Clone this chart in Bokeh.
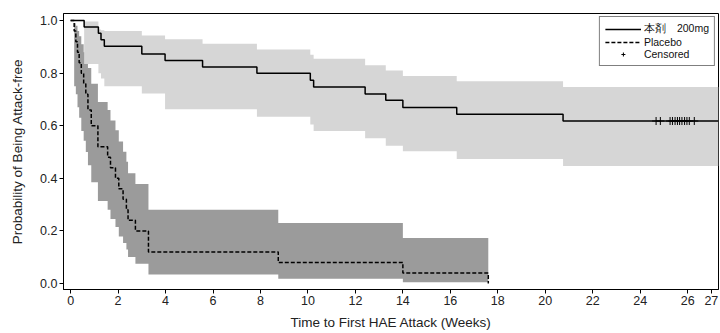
import numpy as np
from bokeh.plotting import figure
from bokeh.models import FixedTicker, Legend, LegendItem, PrintfTickFormatter, Range1d
from bokeh.embed import file_html
from bokeh.resources import INLINE

# ---- Drug arm (本剤 200mg): Kaplan-Meier estimate and confidence band ----
drug_time  = [0.0, 0.57, 1.17, 1.28, 1.42, 3.00, 3.98, 5.56, 7.85, 10.10, 10.24, 12.41, 13.28, 14.00, 16.27, 20.75]
drug_surv  = [1.0, 0.976, 0.952, 0.927, 0.902, 0.873, 0.848, 0.823, 0.800, 0.773, 0.747, 0.721, 0.697, 0.669, 0.644, 0.618]
drug_lower = [1.0, 0.835, 0.800, 0.780, 0.750, 0.723, 0.663, 0.663, 0.634, 0.605, 0.580, 0.552, 0.524, 0.503, 0.473, 0.447]
drug_upper = [1.0, 0.997, 0.966, 0.963, 0.960, 0.943, 0.929, 0.912, 0.890, 0.870, 0.855, 0.830, 0.810, 0.789, 0.769, 0.747]
drug_end = 27.3
drug_censored = [24.67, 24.85, 25.26, 25.36, 25.47, 25.57, 25.66, 25.76, 25.87, 25.97, 26.07, 26.28]

# ---- Placebo arm ----
pbo_time  = [0.0, 0.15, 0.22, 0.29, 0.36, 0.45, 0.55, 0.64, 0.73, 0.87, 1.15, 1.56, 1.68, 1.89, 2.03, 2.21, 2.35, 2.42, 2.73, 3.28, 8.75, 14.00, 17.60]
pbo_surv  = [1.0, 0.96, 0.92, 0.88, 0.84, 0.80, 0.76, 0.72, 0.66, 0.60, 0.52, 0.48, 0.44, 0.40, 0.36, 0.32, 0.28, 0.24, 0.20, 0.12, 0.08, 0.04, 0.0]
pbo_lower = [1.0, 0.75, 0.72, 0.67, 0.63, 0.58, 0.543, 0.50, 0.45, 0.385, 0.314, 0.28, 0.245, 0.215, 0.179, 0.154, 0.129, 0.101, 0.075, 0.034, 0.018, 0.005]
pbo_upper = [1.0, 0.99, 0.98, 0.96, 0.94, 0.91, 0.88, 0.86, 0.82, 0.76, 0.69, 0.66, 0.62, 0.583, 0.54, 0.501, 0.463, 0.419, 0.378, 0.28, 0.23, 0.173]

x_ticks = [0, 2, 4, 6, 8, 10, 12, 14, 16, 18, 20, 22, 24, 26, 27]
y_ticks = [0.0, 0.2, 0.4, 0.6, 0.8, 1.0]

legend_labels = ["本剤　200mg", "Placebo", "Censored"]
x_label = "Time to First HAE Attack (Weeks)"
y_label = "Probability of Being Attack-free"


def step_band(t, lo, hi, end):
    xs, y1, y2 = [], [], []
    for i in range(len(lo)):
        t1 = t[i + 1] if i + 1 < len(t) else end
        xs += [t[i], t1]
        y1 += [lo[i], lo[i]]
        y2 += [hi[i], hi[i]]
    return xs, y1, y2


FONT = "Liberation Sans"

p = figure(width=720, height=333, output_backend="svg", toolbar_location=None,
           x_range=Range1d(-0.30, 27.3), y_range=Range1d(-0.023, 1.027),
           min_border_left=63, min_border_right=2, min_border_top=13, min_border_bottom=44)

# confidence bands (placebo first, drug band over it)
px, py1, py2 = step_band(pbo_time, pbo_lower, pbo_upper, pbo_time[-1])
p.varea(x=px, y1=py1, y2=py2, fill_color="#9b9b9b")
dx, dy1, dy2 = step_band(drug_time, drug_lower, drug_upper, drug_end)
p.varea(x=dx, y1=dy1, y2=dy2, fill_color="#d6d6d6")

# KM curves
drug_line = p.step(x=drug_time + [drug_end], y=drug_surv + [drug_surv[-1]], mode="after",
                   line_color="black", line_width=1.5)
pbo_line = p.step(x=pbo_time, y=pbo_surv, mode="after",
                  line_color="black", line_width=1.5, line_dash="4 2")
cens = p.scatter(x=drug_censored, y=[drug_surv[-1]] * len(drug_censored), marker="cross",
                 size=8, line_color="black", line_width=1)

legend = Legend(items=[LegendItem(label=legend_labels[0], renderers=[drug_line]),
                       LegendItem(label=legend_labels[1], renderers=[pbo_line]),
                       LegendItem(label=legend_labels[2], renderers=[cens])],
                location="top_right", margin=3, padding=5, spacing=0,
                glyph_width=36, glyph_height=10, label_height=10, label_standoff=3,
                label_text_font=FONT, label_text_font_size="10.5px", label_text_color="#111",
                border_line_color="black", border_line_width=1, background_fill_alpha=1)
p.add_layout(legend)

p.xgrid.visible = False
p.ygrid.visible = False
p.outline_line_color = "black"
p.outline_line_width = 1

p.xaxis.ticker = FixedTicker(ticks=x_ticks)
p.yaxis.ticker = FixedTicker(ticks=y_ticks)
p.yaxis.formatter = PrintfTickFormatter(format="%.1f")
p.xaxis.axis_label = x_label
p.yaxis.axis_label = y_label

for ax in (p.xaxis, p.yaxis):
    ax.axis_line_color = "black"
    ax.major_tick_line_color = "black"
    ax.major_tick_out = 4
    ax.major_tick_in = 0
    ax.minor_tick_line_color = None
    ax.major_label_text_font = FONT
    ax.major_label_text_font_size = "12.5px"
    ax.major_label_text_color = "#222"
    ax.major_label_standoff = 2
    ax.axis_label_text_font = FONT
    ax.axis_label_text_font_size = "13.5px"
    ax.axis_label_text_font_style = "normal"
    ax.axis_label_text_color = "#222"

p.xaxis.axis_label_standoff = 7
p.yaxis.axis_label_standoff = 12

open("out.html", "w").write(file_html(p, INLINE))
